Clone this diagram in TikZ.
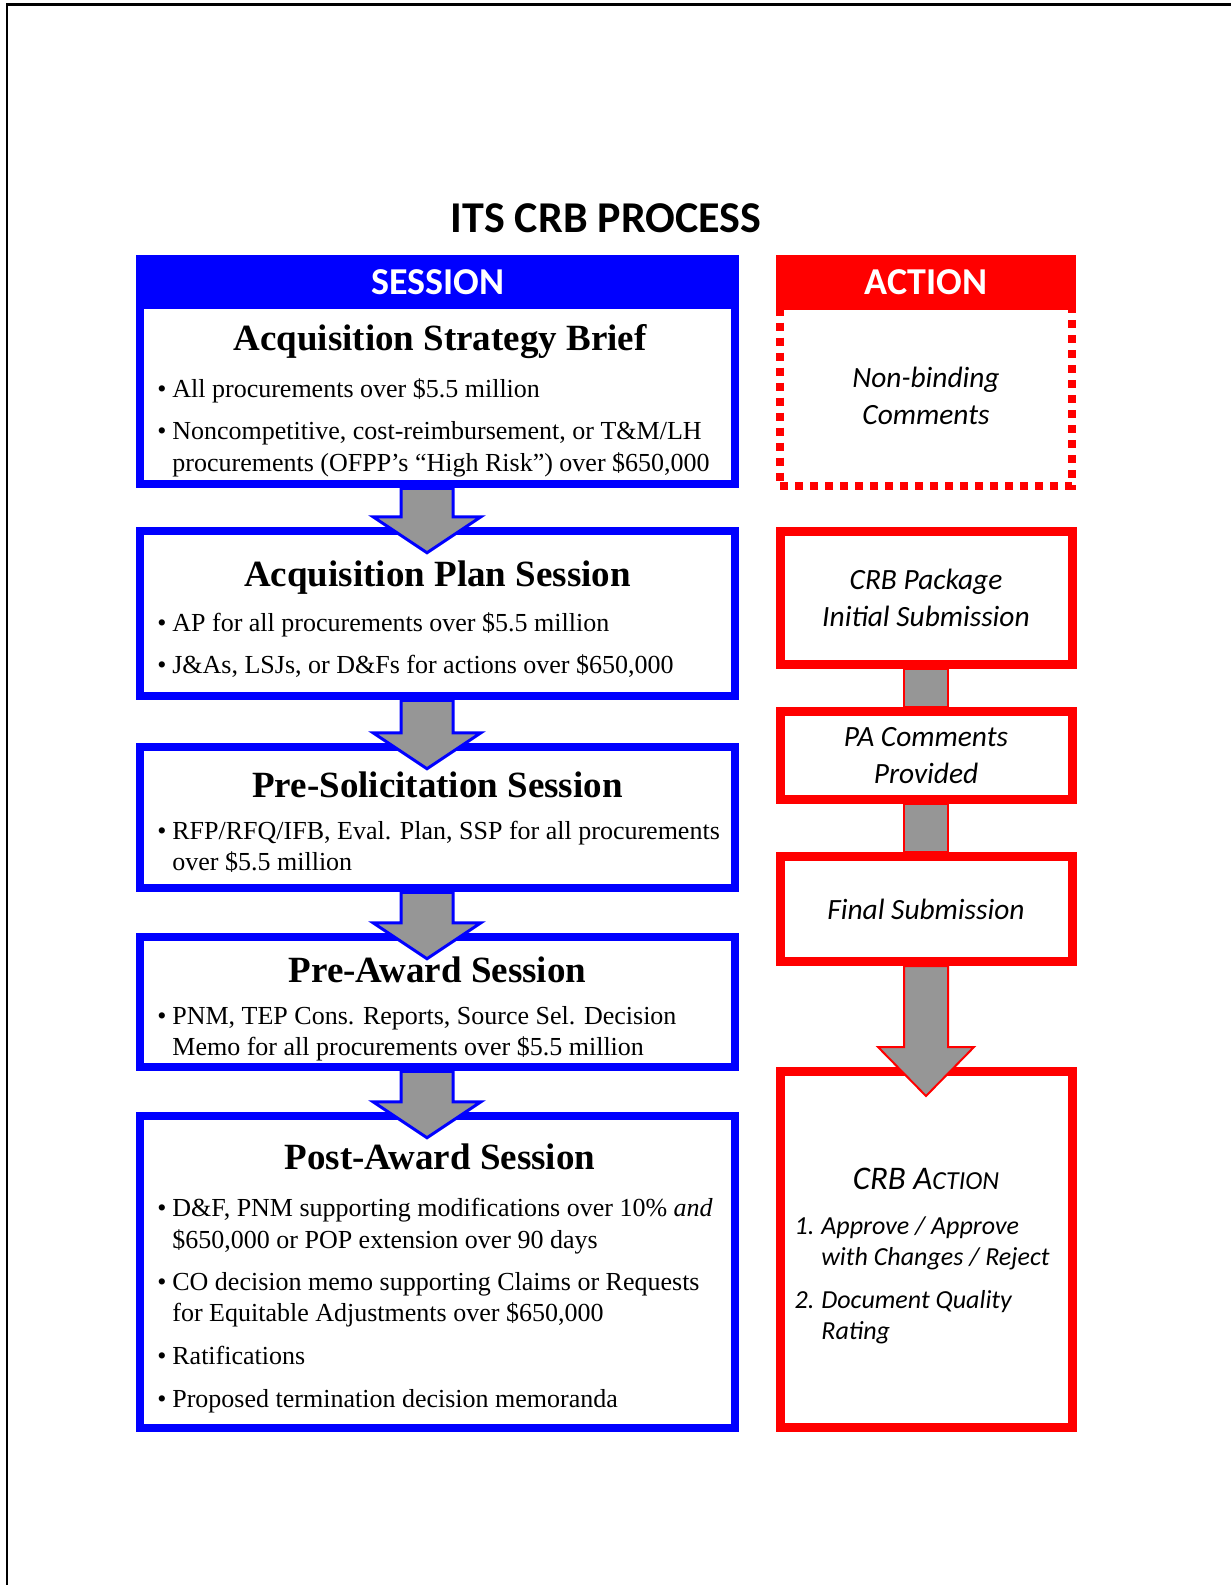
\documentclass[tikz,border=0pt]{standalone}
\usepackage{fontspec}
\setmainfont{Liberation Serif}
\newfontfamily\calibri{Carlito}
\usetikzlibrary{calc, positioning}
\definecolor{sesblue}{RGB}{0,0,255}
\definecolor{actred}{RGB}{255,0,0}
\definecolor{arrowgray}{RGB}{150,150,150}

\begin{document}
\begin{tikzpicture}[x=0.5pt, y=-0.5pt, line join=miter,
  sesbox/.style={draw=sesblue, line width=4.25pt, fill=white, minimum width=297.5pt, inner sep=0pt},
  actbox/.style={draw=actred, line width=4.5pt, fill=white, minimum width=146pt, inner sep=0pt, align=center, font={\calibri\itshape\fontsize{14.7}{18.5}\selectfont}},
  colhead/.style={inner sep=0pt, text=white, font={\calibri\bfseries\fontsize{19}{22}\selectfont}},
  stitle/.style={anchor=base, inner sep=0pt, font={\bfseries\fontsize{18.5}{22}\selectfont}},
  bul/.style={anchor=base west, inner sep=0pt, font={\fontsize{13}{15.6}\selectfont}},
  crbline/.style={anchor=base west, inner sep=0pt, font={\calibri\itshape\fontsize{13}{15.6}\selectfont}},
  sesarrow/.style={draw=sesblue, line width=1.5pt, fill=arrowgray},
  actarrow/.style={draw=actred, line width=1pt, fill=arrowgray}]
\useasboundingbox (0,0) rectangle (1231,1585);
% page edge
\draw[line width=1.2pt] (1231,4.5) -- (7,4.5) -- (7,1585);
\node[anchor=base, inner sep=0pt, font={\calibri\bfseries\fontsize{22}{26}\selectfont}] (title) at (606,232.5) {ITS CRB PROCESS};

% session column
\node[sesbox, minimum height=112.5pt] (asb) at (437.5,371.5) {};
\node[colhead, fill=sesblue, minimum width=301.5pt, minimum height=27pt] (seshead) at (437.5,282) {SESSION};
\node[sesbox, minimum height=82.5pt] (aps) at (437.5,613.5) {};
\node[sesbox, minimum height=70.5pt] (pss) at (437.5,817.5) {};
\node[sesbox, minimum height=65pt] (pas) at (437.5,1002) {};
\node[sesbox, minimum height=156pt] (poas) at (437.5,1272) {};

\draw[sesarrow] let \p1=(asb.south), \p2=(aps.north) in (\x1-18.25pt,\y1) -- (\x1-18.25pt,\y2+5pt) -- (\x1-32.25pt,\y2+5pt) -- (\x1-5.25pt,\y2-13pt) -- (\x1+21.75pt,\y2+5pt) -- (\x1+7.75pt,\y2+5pt) -- (\x1+7.75pt,\y1) -- cycle;
\draw[sesarrow] let \p1=(aps.south), \p2=(pss.north) in (\x1-18.25pt,\y1) -- (\x1-18.25pt,\y2+5pt) -- (\x1-32.25pt,\y2+5pt) -- (\x1-5.25pt,\y2-13pt) -- (\x1+21.75pt,\y2+5pt) -- (\x1+7.75pt,\y2+5pt) -- (\x1+7.75pt,\y1) -- cycle;
\draw[sesarrow] let \p1=(pss.south), \p2=(pas.north) in (\x1-18.25pt,\y1) -- (\x1-18.25pt,\y2+5pt) -- (\x1-32.25pt,\y2+5pt) -- (\x1-5.25pt,\y2-13pt) -- (\x1+21.75pt,\y2+5pt) -- (\x1+7.75pt,\y2+5pt) -- (\x1+7.75pt,\y1) -- cycle;
\draw[sesarrow] let \p1=(pas.south), \p2=(poas.north) in (\x1-18.25pt,\y1) -- (\x1-18.25pt,\y2+5pt) -- (\x1-32.25pt,\y2+5pt) -- (\x1-5.25pt,\y2-13pt) -- (\x1+21.75pt,\y2+5pt) -- (\x1+7.75pt,\y2+5pt) -- (\x1+7.75pt,\y1) -- cycle;

\node[stitle] (asbt) at (440,350.7) {Acquisition Strategy Brief};
\node[bul] (asb1) at (172,397) {\llap{\textbullet\hspace{3pt}}All procurements over \$5.5 million};
\node[bul] (asb2) at (172,439.6) {\llap{\textbullet\hspace{3pt}}Noncompetitive, cost-reimbursement, or T\&M/LH};
\node[bul] (asb2b) at (172,471) {procurements (OFPP’s “High Risk”) over \$650,000};

\node[stitle] (apst) at (437.5,586) {Acquisition Plan Session};
\node[bul] (aps1) at (172,631.7) {\llap{\textbullet\hspace{3pt}}AP for all procurements over \$5.5 million};
\node[bul] (aps2) at (172,673) {\llap{\textbullet\hspace{3pt}}J\&As, LSJs, or D\&Fs for actions over \$650,000};

\node[stitle] (psst) at (437.5,797) {Pre-Solicitation Session};
\node[bul] (pss1) at (172,839) {\llap{\textbullet\hspace{3pt}}RFP/RFQ/IFB, Eval. Plan, SSP for all procurements};
\node[bul] (pss1b) at (172,870) {over \$5.5 million};

\node[stitle] (past) at (437.5,982.4) {Pre-Award Session};
\node[bul] (pas1) at (172,1024) {\llap{\textbullet\hspace{3pt}}PNM, TEP Cons. Reports, Source Sel. Decision};
\node[bul] (pas1b) at (172,1055) {Memo for all procurements over \$5.5 million};

\node[stitle] (poast) at (440,1169.4) {Post-Award Session};
\node[bul] (poas1) at (172,1216) {\llap{\textbullet\hspace{3pt}}D\&F, PNM supporting modifications over 10\% \textit{and}};
\node[bul] (poas1b) at (172,1248) {\$650,000 or POP extension over 90 days};
\node[bul] (poas2) at (172,1290) {\llap{\textbullet\hspace{3pt}}CO decision memo supporting Claims or Requests};
\node[bul] (poas2b) at (172,1321) {for Equitable Adjustments over \$650,000};
\node[bul] (poas3) at (172,1364) {\llap{\textbullet\hspace{3pt}}Ratifications};
\node[bul] (poas4) at (172,1407) {\llap{\textbullet\hspace{3pt}}Proposed termination decision memoranda};

% action column
\node[actbox, draw=actred, line width=4pt, dash pattern=on 4pt off 3.5pt, minimum height=89.75pt] (nbc) at (926,395.75) {Non-binding\\Comments};
\node[colhead, fill=actred, minimum width=150pt, minimum height=27.5pt] (acthead) at (926,282.5) {ACTION};
\node[actbox, minimum height=66.5pt] (crbpkg) at (926,598) {CRB Package\\Initial Submission};
\node[actbox, minimum height=44pt] (pacom) at (926,755.5) {PA Comments\\Provided};
\node[actbox, minimum height=52.5pt] (fin) at (926,909) {Final Submission};
\node[actbox, minimum height=178pt] (crba) at (926,1249.5) {};

\draw[actarrow] ([xshift=-11pt]crbpkg.south) rectangle ([xshift=11pt]pacom.north);
\draw[actarrow] ([xshift=-11pt]pacom.south) rectangle ([xshift=11pt]fin.north);
\draw[actarrow] let \p1=(fin.south), \p2=(crba.north) in (\x1-11pt,\y1) -- (\x1-11pt,\y2+10pt) -- (\x1-24pt,\y2+10pt) -- (\x1,\y2-14.5pt) -- (\x1+24pt,\y2+10pt) -- (\x1+11pt,\y2+10pt) -- (\x1+11pt,\y1) -- cycle;

\node[anchor=base, inner sep=0pt, font={\calibri\itshape\fontsize{16.5}{19}\selectfont}] (crbt) at (926,1189) {CRB A{\fontsize{13}{15}\selectfont CTION}};
\node[crbline] (crb1) at (821,1234) {\llap{1.\hspace{3.5pt}}Approve / Approve};
\node[crbline] (crb1b) at (821,1265.5) {with Changes / Reject};
\node[crbline] (crb2) at (821,1308) {\llap{2.\hspace{3.5pt}}Document Quality};
\node[crbline] (crb2b) at (821,1339) {Rating};
\end{tikzpicture}
\end{document}
